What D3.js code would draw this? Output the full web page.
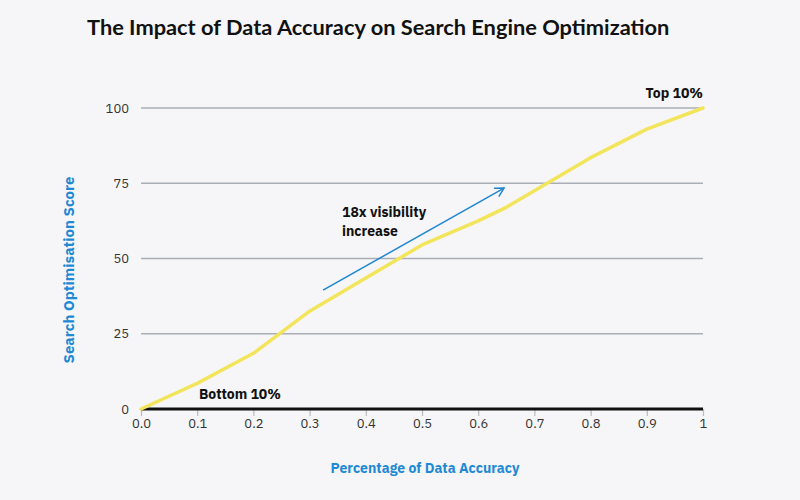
<!DOCTYPE html>
<html><head><meta charset="utf-8">
<script src="https://cdn.jsdelivr.net/npm/d3@7"></script>
<style>body{margin:0;background:#f6f6f8}svg{display:block}</style>
</head><body>
<svg id="c" width="800" height="500"></svg>
<script>
const accuracy = [0, 0.1, 0.2, 0.3, 0.4, 0.5, 0.6, 0.65, 0.7, 0.8, 0.9, 1];
const score = [0, 8.5, 18.5, 32.5, 43.5, 54.5, 62.5, 67, 72.5, 83.5, 93, 100];
const yTicks = [0, 25, 50, 75, 100];
const xTicks = [0, 0.1, 0.2, 0.3, 0.4, 0.5, 0.6, 0.7, 0.8, 0.9, 1];
const xTickLabels = ["0.0","0.1","0.2","0.3","0.4","0.5","0.6","0.7","0.8","0.9","1"];
const arrowFrom = [0.324, 39.5];
const arrowTo = [0.646, 73.4];

const svg = d3.select("#c");
svg.append("rect").attr("width",800).attr("height",500).attr("fill","#f6f6f8");
const x = d3.scaleLinear().domain([0,1]).range([141,703]);
const y = d3.scaleLinear().domain([0,100]).range([409,108]);
const sans = "'IBM Plex Sans','Open Sans','Noto Sans',sans-serif";

svg.append("text").attr("x",87).attr("y",35).attr("font-family","Lato,sans-serif")
  .attr("font-weight","bold").attr("font-size",21.8).attr("fill","#111")
  .text("The Impact of Data Accuracy on Search Engine Optimization");

// grid
svg.append("g").selectAll("line").data(yTicks.filter(d=>d>0)).join("line")
  .attr("x1",x(0)).attr("x2",x(1)).attr("y1",d=>y(d)).attr("y2",d=>y(d))
  .attr("stroke","#a9aeb7").attr("stroke-width",1.5);

// y axis labels
const ya = svg.append("g").attr("transform",`translate(${x(0)},0)`)
  .call(d3.axisLeft(y).tickValues(yTicks).tickSize(0).tickPadding(12));
ya.select(".domain").remove();
ya.selectAll("text").attr("font-family",sans).attr("font-size",13).attr("fill","#333");

// x axis
const xa = svg.append("g").attr("transform",`translate(0,${y(0)})`)
  .call(d3.axisBottom(x).tickValues(xTicks).tickFormat((d,i)=>xTickLabels[i]).tickSize(7).tickPadding(3));
xa.select(".domain").remove();
xa.selectAll("line").attr("stroke","#bbb").attr("stroke-width",1.2);
xa.selectAll("text").attr("font-family",sans).attr("font-size",13).attr("fill","#333");
svg.append("line").attr("x1",x(0)).attr("x2",x(1)).attr("y1",y(0)).attr("y2",y(0))
  .attr("stroke","#111").attr("stroke-width",3);

// line
svg.append("path").datum(accuracy.map((a,i)=>[a,score[i]]))
  .attr("d",d3.line().x(d=>x(d[0])).y(d=>y(d[1])))
  .attr("fill","none").attr("stroke","#f2e55c").attr("stroke-width",3.5)
  .attr("stroke-linejoin","round").attr("stroke-linecap","round");

// arrow
const ax1=x(arrowFrom[0]), ay1=y(arrowFrom[1]), ax2=x(arrowTo[0]), ay2=y(arrowTo[1]);
svg.append("line").attr("x1",ax1).attr("y1",ay1).attr("x2",ax2).attr("y2",ay2)
  .attr("stroke","#1f86cf").attr("stroke-width",1.5);
const ang = Math.atan2(ay2-ay1, ax2-ax1);
const hl = 10, ha = 0.5;
svg.append("path").attr("d",`M${ax2-hl*Math.cos(ang-ha)},${ay2-hl*Math.sin(ang-ha)}L${ax2},${ay2}L${ax2-hl*Math.cos(ang+ha)},${ay2-hl*Math.sin(ang+ha)}`)
  .attr("fill","none").attr("stroke","#1f86cf").attr("stroke-width",1.5);

// annotations
const ann = svg.append("text").attr("font-family",sans).attr("font-weight","bold")
  .attr("font-size",14).attr("fill","#111");
ann.append("tspan").attr("x",342).attr("y",217).text("18x visibility");
ann.append("tspan").attr("x",342).attr("y",236).text("increase");
svg.append("text").attr("x",703).attr("y",98).attr("text-anchor","end").attr("font-family",sans)
  .attr("font-weight","bold").attr("font-size",14).attr("fill","#111").text("Top 10%");
svg.append("text").attr("x",199).attr("y",399).attr("font-family",sans)
  .attr("font-weight","bold").attr("font-size",14).attr("fill","#111").text("Bottom 10%");

// axis titles
svg.append("text").attr("x",425).attr("y",473).attr("text-anchor","middle").attr("font-family",sans)
  .attr("font-weight","bold").attr("font-size",14).attr("fill","#1f8ad3").text("Percentage of Data Accuracy");
svg.append("text").attr("transform","translate(74,270) rotate(-90)").attr("text-anchor","middle").attr("font-family",sans)
  .attr("font-weight","bold").attr("font-size",15).attr("fill","#1f8ad3").text("Search Optimisation Score");
</script>
</body></html>
